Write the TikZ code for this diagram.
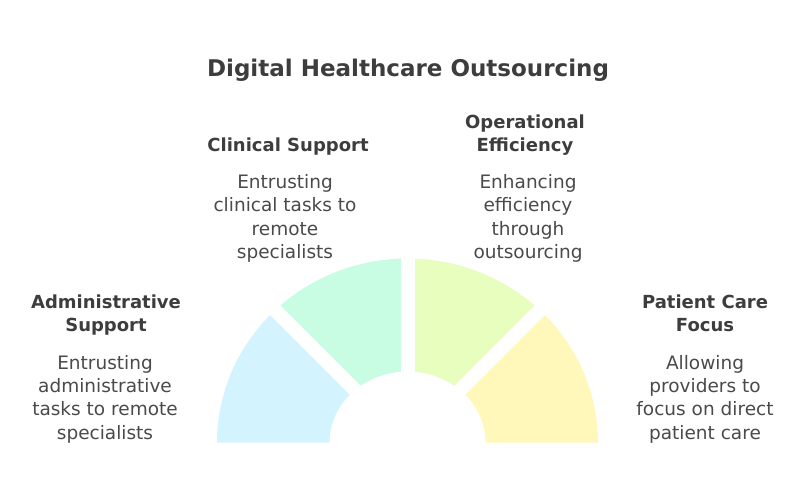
\documentclass[tikz,border=0pt]{standalone}
\usepackage{fontspec}
\setmainfont{DejaVu Sans}
\usetikzlibrary{calc}

\definecolor{segblue}{HTML}{D3F4FE}
\definecolor{segmint}{HTML}{C9FDE3}
\definecolor{seglime}{HTML}{E8FEBF}
\definecolor{segyellow}{HTML}{FFF8BA}
\definecolor{headgray}{HTML}{3D3D3D}
\definecolor{descgray}{HTML}{4A4A4A}

\tikzset{
  head/.style={font=\fontsize{18}{23.5}\selectfont\bfseries, text=headgray, align=center, anchor=base, inner sep=0},
  desc/.style={font=\fontsize{18.5}{23.3}\selectfont, text=descgray, align=center, anchor=base, inner sep=0}
}

\begin{document}
\begin{tikzpicture}[x=1pt,y=1pt]
        \useasboundingbox (0,0) rectangle (810,493);
        \coordinate (c) at (407.5,50.5);

        % half ring, four parts
        \foreach \a/\b/\col in {180/135/segblue,135/90/segmint,90/45/seglime,45/0/segyellow}
          \fill[\col] ($(c)+(\a:190.5 and 184)$) arc[start angle=\a, end angle=\b, x radius=190.5, y radius=184]
            -- ($(c)+(\b:78 and 71)$) arc[start angle=\b, end angle=\a, x radius=78, y radius=71] -- cycle;
        \foreach \a in {45,90,135} \draw[white, line width=14] (c) -- ++(\a:200);

        % base = last line
        \node (title) at (408,416) [head, font=\fontsize{23}{28}\selectfont\bfseries] {Digital Healthcare Outsourcing};

        \node (admh) at (106,161.3) [head] {Administrative\\Support};
        \node (admd) at (105,54) [desc] {Entrusting\\administrative\\tasks to remote\\specialists};

        \node (clih) at (288,341.3) [head] {Clinical Support};
        \node (clid) at (285,234.7) [desc] {Entrusting\\clinical tasks to\\remote\\specialists};

        \node (oph) at (525,341.3) [head] {Operational\\Efficiency};
        \node (opd) at (528,234.7) [desc] {Enhancing\\efficiency\\through\\outsourcing};

        \node (path) at (705,161.3) [head] {Patient Care\\Focus};
        \node (patd) at (705,54) [desc] {Allowing\\providers to\\focus on direct\\patient care};
        \end{tikzpicture}
\end{document}
